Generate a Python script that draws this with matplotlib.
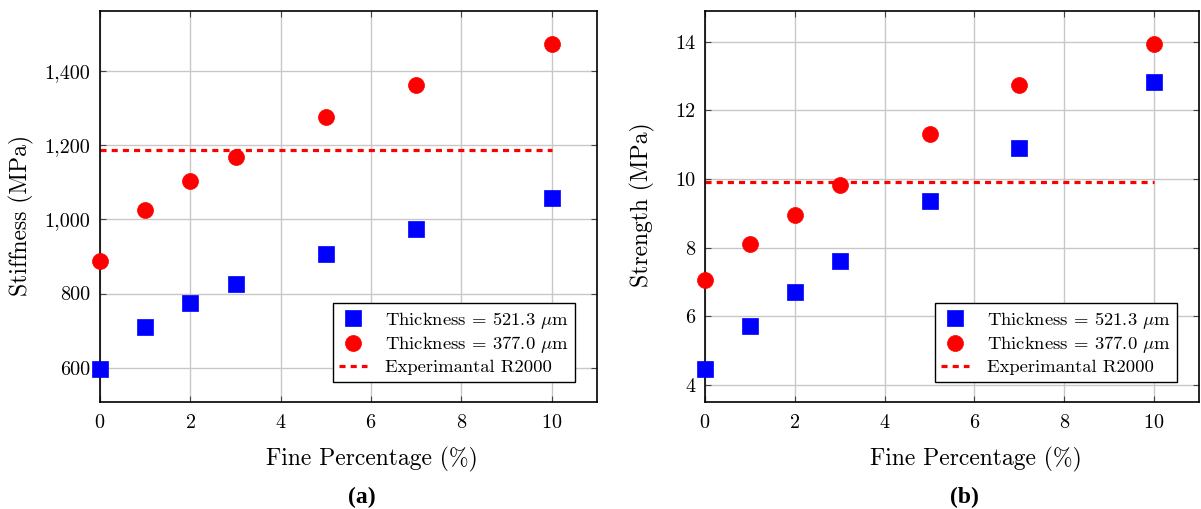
import matplotlib
matplotlib.use("Agg")
import matplotlib.pyplot as plt
from matplotlib.ticker import FuncFormatter

# Data
fine_pct = [0, 1, 2, 3, 5, 7, 10]
stiff_521 = [595, 710, 775, 827, 908, 975, 1057]
stiff_377 = [888, 1025, 1105, 1170, 1277, 1363, 1475]
stiff_exp = 1187
strength_521 = [4.45, 5.72, 6.70, 7.60, 9.37, 10.92, 12.82]
strength_377 = [7.05, 8.10, 8.95, 9.82, 11.32, 12.75, 13.95]
strength_exp = 9.9
exp_x = [0, 10]
legend_labels = [r"Thickness = 521.3 $\mu$m", r"Thickness = 377.0 $\mu$m", "Experimantal R2000"]
ylabels = ["Stiffness (MPa)", "Strength (MPa)"]
captions = ["(a)", "(b)"]
xlabel = "Fine Percentage (%)"

plt.rcParams['font.family'] = 'cmr10'
plt.rcParams['mathtext.fontset'] = 'cm'
plt.rcParams['axes.formatter.use_mathtext'] = True

W, H = 1201, 509
fig = plt.figure(figsize=(W / 100, H / 100), dpi=100)

def px_axes(l, r, t, b):
    return fig.add_axes([l / W, (H - b) / H, (r - l) / W, (b - t) / H])

ax1 = px_axes(100, 597, 11, 402)
ax2 = px_axes(705, 1199, 11, 402)

def draw(ax, y521, y377, yexp, ylabel, yticks, fmt, ylab_x, ylab_y):
    ax.set_axisbelow(True)
    ax.grid(True, color='#c8c8c8', lw=1.0)
    ax.plot(fine_pct, y521, ls='none', marker='s', ms=11, mew=0.5, color='#0000ff', mec='#0000ff',
            label=legend_labels[0], zorder=3, clip_on=False)
    ax.plot(fine_pct, y377, ls='none', marker='o', ms=11.5, mew=0.5, color='#ff0000', mec='#ff0000',
            label=legend_labels[1], zorder=3, clip_on=False)
    ax.plot(exp_x, [yexp, yexp], color='#ff0000', lw=2.3, dashes=(1.9, 1.6), label=legend_labels[2], zorder=2)
    allv = list(y521) + list(y377)
    lo, hi = min(allv), max(allv)
    rng = hi - lo
    ax.set_ylim(lo - 0.1 * rng, hi + 0.1 * rng)
    ax.set_xlim(0, 11)
    ax.set_xticks([0, 2, 4, 6, 8, 10])
    ax.set_yticks(yticks)
    ax.yaxis.set_major_formatter(FuncFormatter(fmt))
    ax.tick_params(axis='both', direction='in', length=4, width=0.8, labelsize=14.5, top=True, right=True,
                   color='#444444')
    ax.tick_params(axis='x', pad=9)
    ax.tick_params(axis='y', pad=7)
    ax.set_ylabel(ylabel, fontsize=17, va='center')
    ax.yaxis.set_label_coords(ylab_x, ylab_y)
    ax.set_xlabel(xlabel, fontsize=17, va='center')
    ax.xaxis.set_label_coords(0.548, -0.146)
    for s in ax.spines.values():
        s.set_linewidth(1.2)
    leg = ax.legend(loc='lower right', bbox_to_anchor=(0.956, 0.052), fontsize=13.4, frameon=True, fancybox=False,
                    edgecolor='black', framealpha=1, borderpad=0.35, handlelength=1.5, handletextpad=0.95,
                    labelspacing=0.2, borderaxespad=0.0, markerscale=1.0)
    leg.get_frame().set_linewidth(1.0)

draw(ax1, stiff_521, stiff_377, stiff_exp, ylabels[0], [600, 800, 1000, 1200, 1400],
     lambda v, p: "{:,}".format(int(v)), -0.159, 0.476)
draw(ax2, strength_521, strength_377, strength_exp, ylabels[1], [4, 6, 8, 10, 12, 14],
     lambda v, p: "{:d}".format(int(v)), -0.1275, 0.505)

fig.text(362 / W, 1 - 497 / H, captions[0], ha='center', va='center', fontsize=17,
         fontweight='bold', family='Liberation Serif')
fig.text(964 / W, 1 - 497 / H, captions[1], ha='center', va='center', fontsize=17,
         fontweight='bold', family='Liberation Serif')

fig.savefig("out.png", dpi=100)
